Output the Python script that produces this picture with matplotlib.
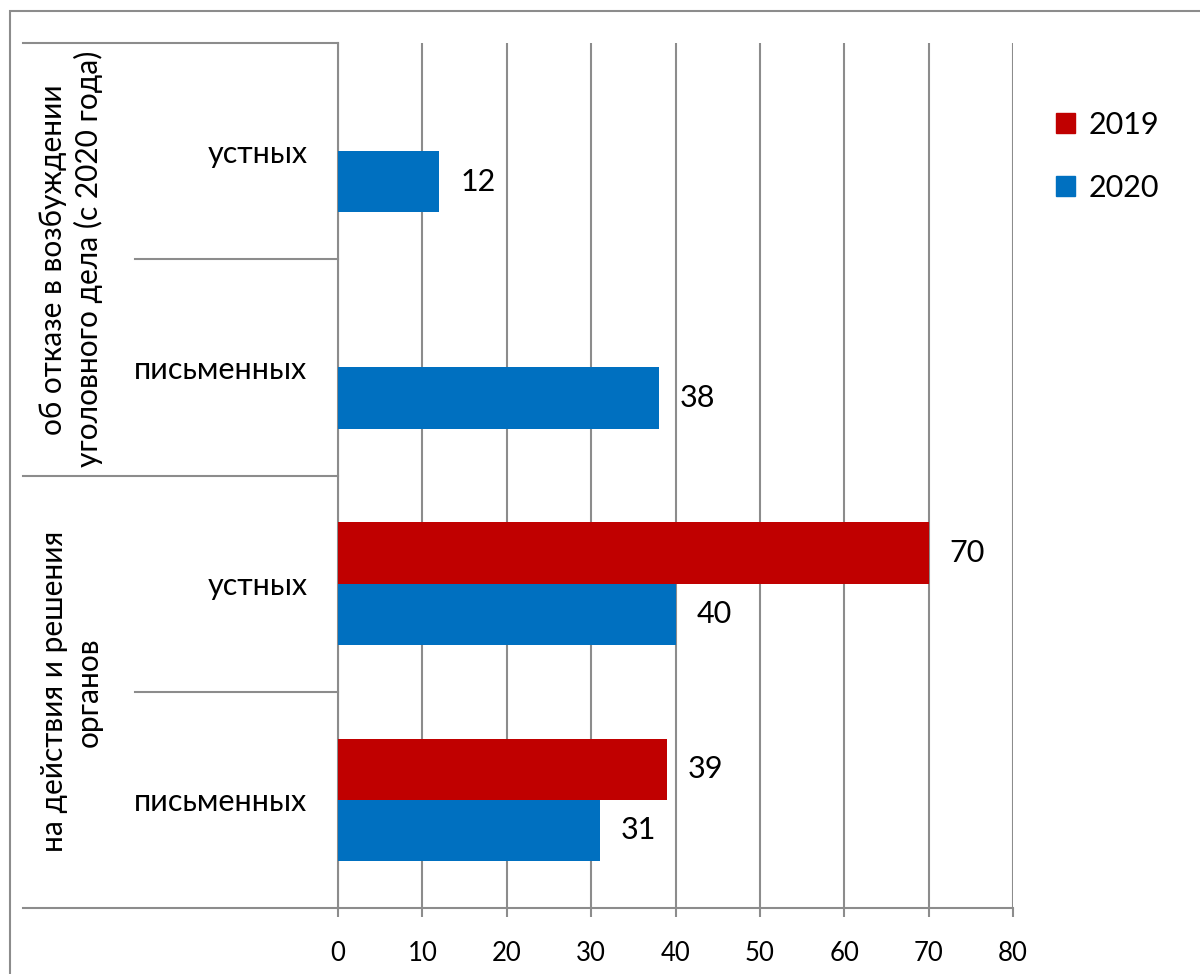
import numpy as np
import matplotlib
matplotlib.use("Agg")
import matplotlib.pyplot as plt
from matplotlib.patches import Patch, Rectangle
from matplotlib.lines import Line2D
import matplotlib.transforms as mtrans

plt.rcParams['font.family'] = ['Lato', 'Open Sans', 'DejaVu Sans']

# ---- data (bottom to top) ----
subcats = ['письменных', 'устных', 'письменных', 'устных']
groups = ['на действия и решения\nорганов',
          'об отказе в возбуждении\nуголовного дела (с 2020 года)']
series_names = ['2019', '2020']
v2019 = [39, 70, np.nan, np.nan]
v2020 = [31, 40, 38, 12]
xticks = [0, 10, 20, 30, 40, 50, 60, 70, 80]

RED = '#C00000'
BLUE = '#0070C0'
GRID = '#8C8C8C'
W, H = 1200, 974

fig = plt.figure(figsize=(12, 9.74), dpi=100)
ax = fig.add_axes([338 / W, 1 - 908 / H, (1013 - 338) / W, (908 - 43) / H])

n = len(subcats)
centers = np.arange(n) + 0.5
bh = 0.283
ax.barh(centers + bh / 2, v2019, height=bh, color=RED, zorder=3)
ax.barh(centers - bh / 2, v2020, height=bh, color=BLUE, zorder=3)

for c, v in zip(centers, v2019):
    if not np.isnan(v):
        ax.annotate(f'{v:g}', (v, c + bh / 2), xytext=(15, 0), textcoords='offset points',
                    ha='left', va='center', fontsize=22)
for c, v in zip(centers, v2020):
    if not np.isnan(v):
        ax.annotate(f'{v:g}', (v, c - bh / 2), xytext=(15, 0), textcoords='offset points',
                    ha='left', va='center', fontsize=22)

ax.set_xlim(0, 80)
ax.set_ylim(0, n)
ax.set_xticks(xticks)
ax.set_xticklabels([str(t) for t in xticks], fontsize=18.5)
ax.set_yticks(centers)
ax.set_yticklabels(subcats, fontsize=22)
ax.tick_params(axis='y', length=0, pad=22)
ax.tick_params(axis='x', length=6.5, width=1.5, color=GRID, pad=17)
ax.grid(axis='x', color=GRID, linewidth=1.5, zorder=0)
for s in ['top', 'right']:
    ax.spines[s].set_visible(False)
for s in ['left', 'bottom']:
    ax.spines[s].set_color(GRID)
    ax.spines[s].set_linewidth(1.5)

# multi-level category separators
tr = mtrans.blended_transform_factory(fig.transFigure, ax.transData)
for yv in [0, 2, 4]:
    fig.add_artist(Line2D([23 / W, 338 / W], [yv, yv], transform=tr, color=GRID, lw=1.5))
for yv in [1, 3]:
    fig.add_artist(Line2D([135 / W, 338 / W], [yv, yv], transform=tr, color=GRID, lw=1.5))
for gi, g in enumerate(groups):
    t = fig.text(71 / W, 2 * gi + 1, g, transform=tr, rotation=90, ha='center', va='center',
                 fontsize=21.5, multialignment='center', linespacing=1.3)

# legend
handles = [Patch(color=RED), Patch(color=BLUE)]
leg = fig.legend(handles, series_names, loc='upper left', bbox_to_anchor=(1028 / W, 1 - 83 / H),
                 frameon=False, fontsize=22, handlelength=0.65, handleheight=0.65,
                 labelspacing=1.15, handletextpad=0.45)

# outer border
fig.add_artist(Rectangle((10 / W, -0.05), 1.1, 1 - 11 / H + 0.05, transform=fig.transFigure,
                         fill=False, edgecolor=GRID, lw=1.5))

fig.savefig('out.png', dpi=100)
